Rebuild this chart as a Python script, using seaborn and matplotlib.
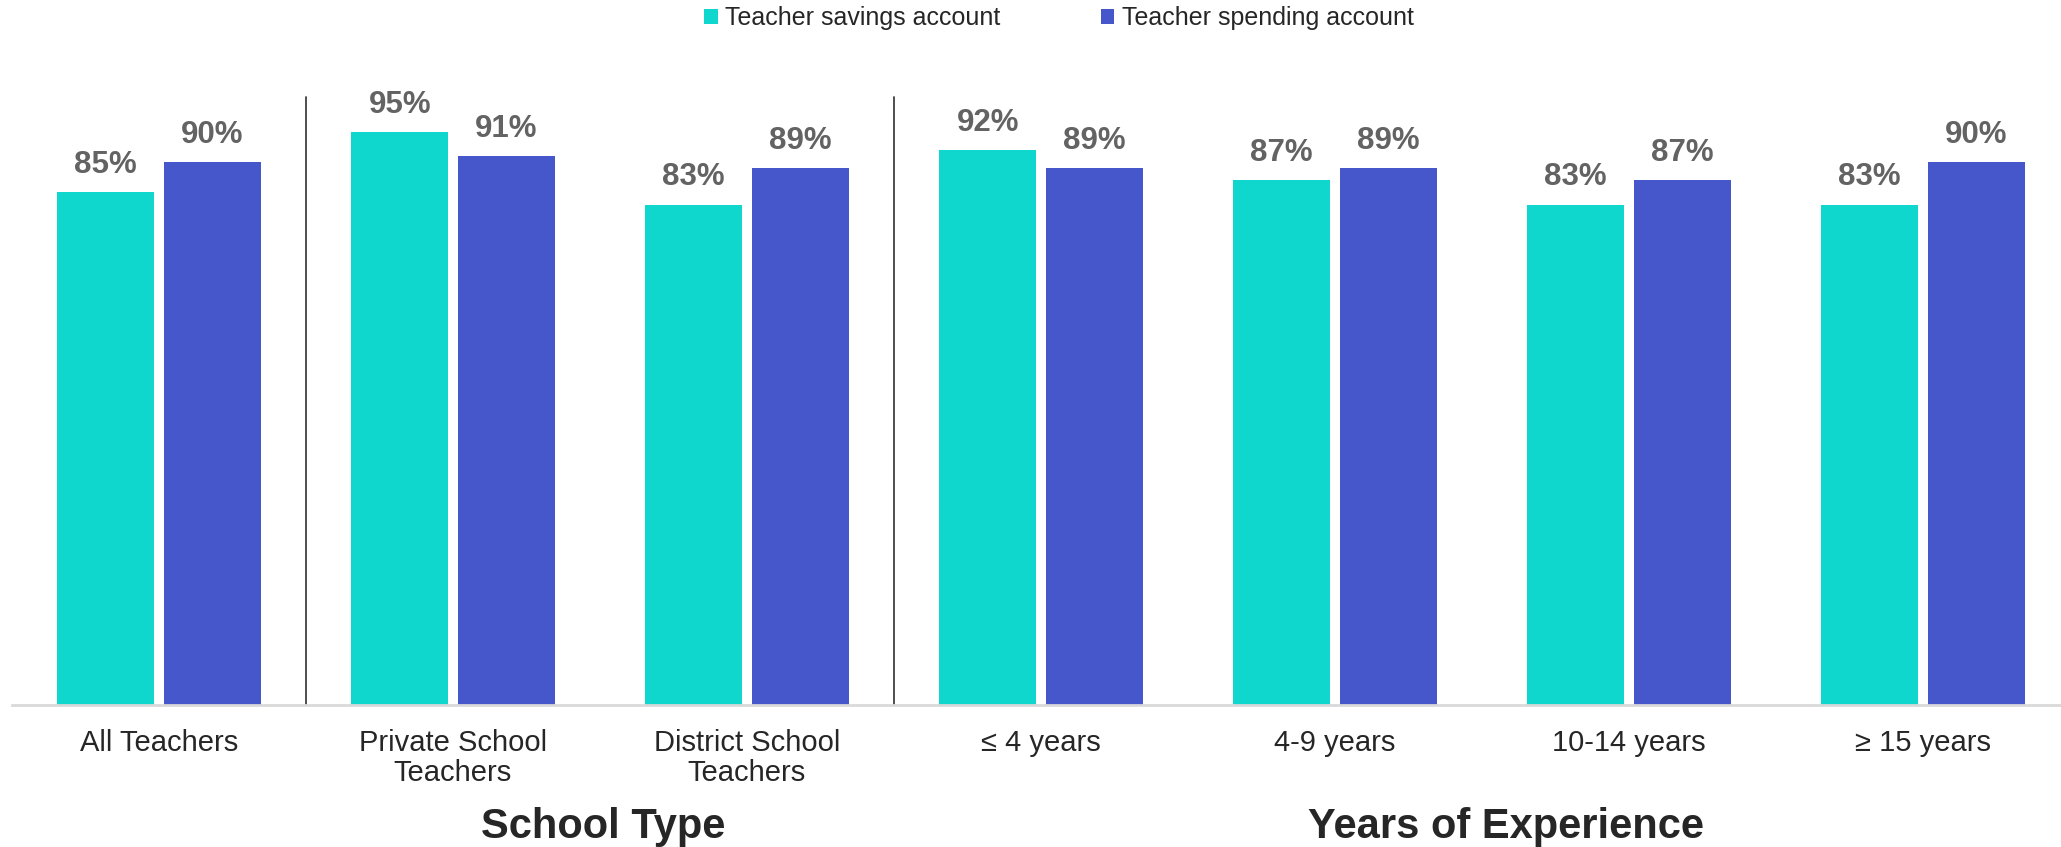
import matplotlib
matplotlib.use("Agg")
import matplotlib.pyplot as plt
import seaborn as sns
import pandas as pd

sns.set_theme(style="white")
plt.rcParams["font.family"] = ["Liberation Sans", "DejaVu Sans"]

# Dados
categorias = ["All Teachers", "Private School\nTeachers", "District School\nTeachers",
              "\u2264 4 years", "4-9 years", "10-14 years", "\u2265 15 years"]
series = ["Teacher savings account", "Teacher spending account"]
poupanca = [85, 95, 83, 92, 87, 83, 83]
gastos = [90, 91, 89, 89, 89, 87, 90]
grupos = ["School Type", "Years of Experience"]

cores = ["#0FD7CD", "#4657CB"]

df = pd.DataFrame({
    "categoria": categorias * 2,
    "serie": [series[0]] * len(categorias) + [series[1]] * len(categorias),
    "valor": poupanca + gastos,
})

fig = plt.figure(figsize=(20.61, 8.47), dpi=100)
ax = fig.add_axes([12 / 2061, (847 - 705) / 847, 2049 / 2061, 603 / 847])

sns.barplot(data=df, x="categoria", y="valor", hue="serie", order=categorias,
            hue_order=series, palette=cores, width=0.725, gap=0.09,
            saturation=1, ax=ax, edgecolor="none")

# Rótulos de valor acima das barras
for cont in ax.containers:
    ax.bar_label(cont, labels=[f"{int(v)}%" for v in cont.datavalues], padding=9,
                 fontsize=22.5, fontweight="bold", color="#636363")

ax.set_ylim(0, 100)
ax.set_xlim(-0.5, -0.5 + 2049 / 294)
ax.set_yticks([])
ax.set_xlabel("")
ax.set_ylabel("")
ax.tick_params(axis="x", length=0, pad=17, labelsize=21, labelcolor="#262626")
for t in ax.get_xticklabels():
    t.set_linespacing(1.12)

for lado in ["top", "left", "right"]:
    ax.spines[lado].set_visible(False)
ax.spines["bottom"].set_color("#D9D9D9")
ax.spines["bottom"].set_linewidth(2)
ax.grid(False)

# Separadores entre grupos
for xs in [0.5, 2.5]:
    ax.plot([xs, xs], [0, (705 - 97) / 6.03], color="#404040", lw=1.3, clip_on=False)

# Títulos dos grupos
ax.text(1.51, -0.2206, grupos[0], transform=ax.get_xaxis_transform(), ha="center",
        va="baseline", fontsize=30, fontweight="bold", color="#262626")
ax.text(4.58, -0.2206, grupos[1], transform=ax.get_xaxis_transform(), ha="center",
        va="baseline", fontsize=30, fontweight="bold", color="#262626")

sns.move_legend(ax, "center", bbox_to_anchor=(1059 / 2061, 1 - 18 / 847),
                bbox_transform=fig.transFigure, ncol=2, frameon=False, title=None,
                fontsize=18, handlelength=0.55, handleheight=0.55,
                handletextpad=0.3, columnspacing=4.0, labelcolor="#262626")

fig.savefig("out.png", dpi=100)
